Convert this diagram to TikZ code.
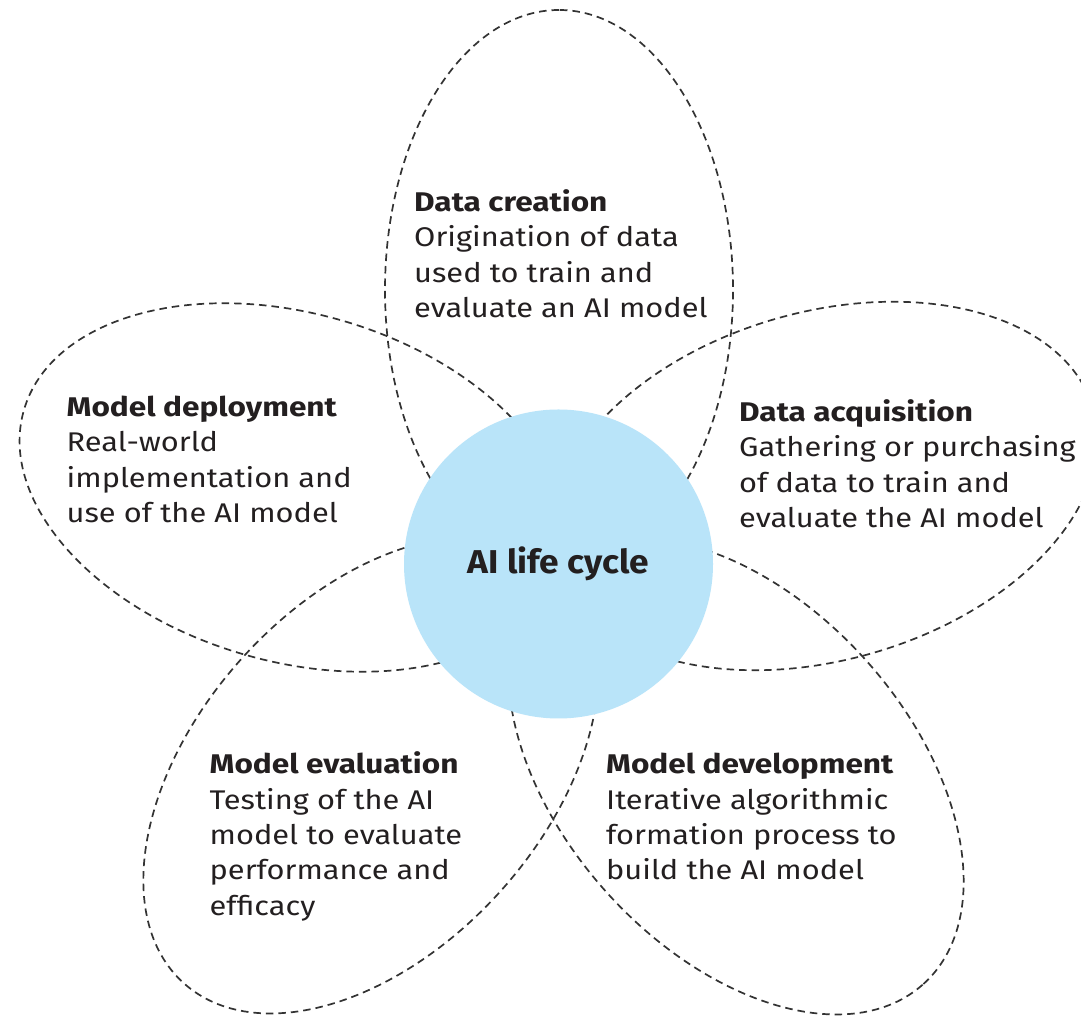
\documentclass[tikz,border=0pt]{standalone}
\usepackage{fontspec}
\setmainfont{Fira Sans}[FakeStretch=1.14]
\newfontfamily\titlefont{Fira Sans}[FakeStretch=1.17]
\newfontfamily\hubfont{Fira Sans}[FakeStretch=1.07]
\definecolor{ink}{HTML}{231F20}
\definecolor{dashc}{HTML}{333333}
\definecolor{corefill}{HTML}{B9E4F9}
\begin{document}
\begin{tikzpicture}[x=1pt,y=1pt,
  petal/.style={draw=dashc, line width=1.7pt, dash pattern=on 7.5pt off 5pt},
  blurb/.style={anchor=base west, inner sep=0pt, text=ink, font=\fontsize{27}{35.3}\selectfont},
  hub/.style={circle, fill=corefill, minimum size=309pt, inner sep=0pt, text=ink, font=\hubfont\bfseries\fontsize{33}{40}\selectfont}]
\newcommand\ttl[1]{\hbox{\titlefont\bfseries #1}}
\useasboundingbox (0,0) rectangle (1081,1016);
\fill[white] (0,0) rectangle (1081,1016);
% petals
\draw[petal, rotate around={90:(559,726)}] (559,726) ellipse [x radius=280pt, y radius=174pt];
\draw[petal, rotate around={-16:(293,528.5)}] (293,528.5) ellipse [x radius=280pt, y radius=174pt];
\draw[petal, rotate around={16:(824,530)}] (824,530) ellipse [x radius=280pt, y radius=174pt];
\draw[petal, rotate around={48:(371,241)}] (371,241) ellipse [x radius=280pt, y radius=174pt];
\draw[petal, rotate around={-48:(736,240)}] (736,240) ellipse [x radius=280pt, y radius=174pt];
% hub
\node[hub] (core) at (558.5,452) {AI life cycle};
% texts
\node[blurb] (creation) at (414,804.3) {\vtop{\ttl{Data creation}\hbox{Origination of data}\hbox{used to train and}\hbox{evaluate an AI model}}};
\node[blurb] (deploy) at (66.5,599.3) {\vtop{\ttl{Model deployment}\hbox{Real-world}\hbox{implementation and}\hbox{use of the AI model}}};
\node[blurb] (acquire) at (739,594.3) {\vtop{\ttl{Data acquisition}\hbox{Gathering or purchasing}\hbox{of data to train and}\hbox{evaluate the AI model}}};
\node[blurb] (evaluate) at (209.5,242) {\vtop{\ttl{Model evaluation}\hbox{Testing of the AI}\hbox{model to evaluate}\hbox{performance and}\hbox{efficacy}}};
\node[blurb] (develop) at (606,242) {\vtop{\ttl{Model development}\hbox{Iterative algorithmic}\hbox{formation process to}\hbox{build the AI model}}};
\end{tikzpicture}
\end{document}
